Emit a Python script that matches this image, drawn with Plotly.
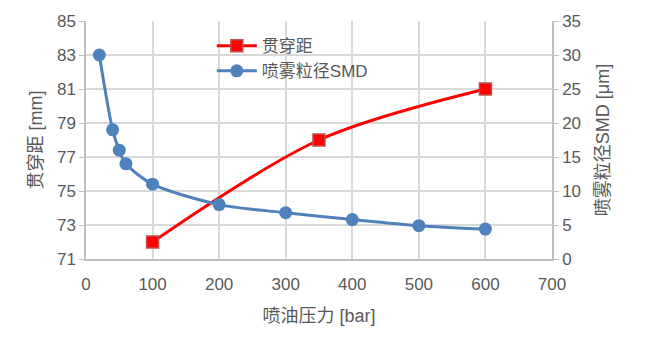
import plotly.graph_objects as go

# Injection pressure [bar] vs. penetration and spray droplet size
pressure_pen = [100, 350, 600]
penetration = [72, 78, 81]

pressure_smd = [20, 40, 50, 60, 100, 200, 300, 400, 500, 600]
smd = [30, 19, 16, 14, 11, 8, 6.8, 5.8, 4.9, 4.4]

text_col = "#595959"
font_family = "Liberation Sans, Arial, Noto Sans CJK SC, sans-serif"

fig = go.Figure()

fig.add_trace(go.Scatter(
    x=pressure_pen, y=penetration, name="贯穿距",
    mode="lines+markers",
    line=dict(color="#ff0000", width=3, shape="spline", smoothing=0.9),
    marker=dict(symbol="square", size=12, color="#ff0000",
                line=dict(color="#c0504d", width=1.5)),
    yaxis="y",
))

fig.add_trace(go.Scatter(
    x=pressure_smd, y=smd, name="喷雾粒径SMD",
    mode="lines+markers",
    line=dict(color="#4f81bd", width=3, shape="spline", smoothing=0.8),
    marker=dict(symbol="circle", size=13, color="#4f81bd"),
    yaxis="y2",
))

grid_line = dict(
    showgrid=True, gridcolor="#d9d9d9", gridwidth=1.5,
    showline=True, linecolor="#bfbfbf", linewidth=1.5,
    tickfont=dict(size=17, color=text_col, family=font_family),
    zeroline=False,
)
title_font = dict(size=18, color=text_col, family=font_family)

fig.update_layout(
    width=649, height=343,
    margin=dict(l=86, r=97, t=19, b=84),
    paper_bgcolor="white", plot_bgcolor="white",
    font=dict(family=font_family, color=text_col),
    showlegend=True,
    legend=dict(
        x=0.27, y=0.97, xanchor="left", yanchor="top",
        bgcolor="rgba(0,0,0,0)", borderwidth=0,
        font=dict(size=17, color=text_col, family=font_family),
        tracegroupgap=0, itemwidth=40,
    ),
    xaxis=dict(
        range=[0, 700], dtick=100, tick0=0,
        ticks="outside", ticklen=9, tickcolor="rgba(0,0,0,0)",
        title=dict(text="喷油压力 [bar]", font=title_font, standoff=16),
        **grid_line,
    ),
    yaxis=dict(
        range=[71, 85], dtick=2, tick0=71,
        ticks="outside", ticklen=5, tickcolor="#bfbfbf",
        title=dict(text="贯穿距 [mm]", font=title_font, standoff=10),
        **grid_line,
    ),
    yaxis2=dict(
        range=[0, 35], dtick=5, tick0=0,
        overlaying="y", side="right",
        ticks="outside", ticklen=5, tickcolor="#bfbfbf",
        title=dict(text="喷雾粒径SMD [μm]", font=title_font, standoff=16),
        **grid_line,
    ),
)

fig.write_html("out.html")
